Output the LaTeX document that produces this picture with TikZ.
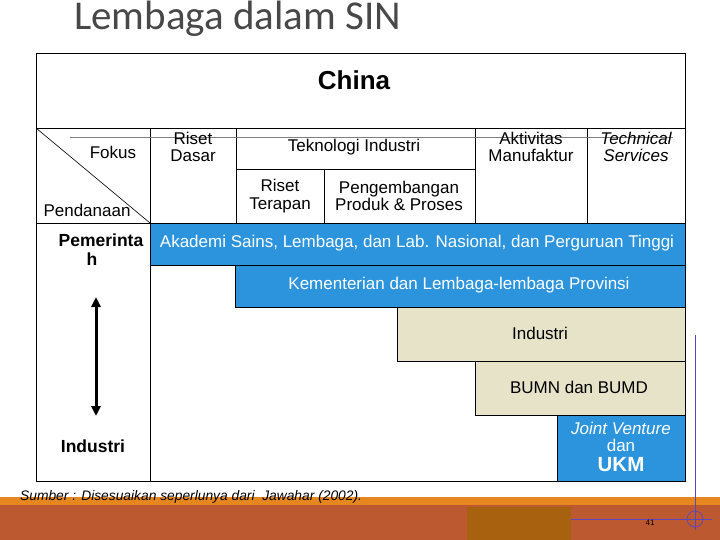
\documentclass[tikz,border=0pt]{standalone}
\usepackage{fontspec}
\setmainfont{Liberation Sans}
\newfontfamily\titlefont{Carlito}
\usetikzlibrary{arrows.meta}
\definecolor{rowblue}{RGB}{44,148,220}
\definecolor{rowbeige}{RGB}{230,227,200}
\definecolor{bandorange}{RGB}{229,134,31}
\definecolor{bandrust}{RGB}{189,89,48}
\definecolor{banddark}{RGB}{168,98,15}
\definecolor{guide}{RGB}{90,70,190}
\definecolor{titlegray}{RGB}{72,72,72}
\tikzset{
  txt/.style={font=\fontsize{17}{17.5}\selectfont, align=center, inner sep=0pt},
  btxt/.style={font=\fontsize{17.5}{18}\selectfont\bfseries, align=center, inner sep=0pt},
  wtxt/.style={txt, text=white},
  grid/.style={draw=black, line width=0.8pt},
  bluebox/.style={grid, fill=rowblue},
  beigebox/.style={grid, fill=rowbeige},
}
\begin{document}
\begin{tikzpicture}[x=1pt,y=-1pt]
\useasboundingbox (0,0) rectangle (720,540);
% title
\node[font=\titlefont\fontsize{41}{41}\selectfont, text=titlegray, anchor=base west, inner sep=0pt] (title) at (74,30) {Lembaga dalam SIN};
% outer frame and header grid
\draw[grid, line width=1pt] (36,54) rectangle (685,481);
\draw[grid] (36,128) -- (685,128);
\draw[grid] (36,223) -- (685,223);
\draw[grid] (150,128) -- (150,481);
\draw[grid] (236,128) -- (236,223);
\draw[grid] (475,128) -- (475,223);
\draw[grid] (587,128) -- (587,223);
\draw[grid] (236,169) -- (475,169);
\draw[grid] (324,169) -- (324,223);
\draw[black, line width=0.6pt] (36,128) -- (150,223);
\draw[gray, line width=0.7pt] (70,137) -- (673,137);
% header texts
\node[font=\fontsize{26}{26}\selectfont\bfseries, inner sep=0pt] (china) at (354,80) {China};
\node[txt] (fokus) at (113,152) {Fokus};
\node[txt] (pendanaan) at (87,210) {Pendanaan};
\node[txt] (risetdasar) at (193,147) {Riset\\Dasar};
\node[txt] (teknologi) at (354,147) {Teknologi Industri};
\node[txt] (terapan) at (280,196) {Riset\\Terapan};
\node[txt] (pengembangan) at (399,196) {Pengembangan\\Produk \& Proses};
\node[txt] (aktivitas) at (531,147) {Aktivitas\\Manufaktur};
\node[txt, font=\fontsize{17}{17.5}\selectfont\itshape] (technical) at (636,147) {Technical\\Services};
% rows
\draw[bluebox] (150,223) rectangle (685,265);
\node[wtxt] (akademi) at (417,243) {Akademi Sains, Lembaga, dan Lab. Nasional, dan Perguruan Tinggi};
\draw[bluebox] (235,265) rectangle (685,307);
\node[wtxt] (kementerian) at (459,285) {Kementerian dan Lembaga-lembaga Provinsi};
\draw[beigebox] (397,307) rectangle (685,361);
\node[txt] (industribox) at (540,333) {Industri};
\draw[beigebox] (475,361) rectangle (685,415);
\node[txt] (bumn) at (579,387) {BUMN dan BUMD};
\draw[bluebox] (557,415) rectangle (685,481);
\node[wtxt, font=\fontsize{17}{17.5}\selectfont\itshape] (jv) at (621,428) {Joint Venture};
\node[wtxt] (dan) at (621,445) {dan};
\node[wtxt, font=\fontsize{20.5}{21}\selectfont\bfseries] (ukm) at (621,465) {UKM};
% left axis
\node[btxt] (pemerintah) at (101,250) {Pemerinta\\[1pt]\hspace*{-18pt}h};
\node[btxt] (industri) at (93,446) {Industri};
\coordinate (atop) at (96,297);
\coordinate (abot) at (96,416);
\draw[line width=3pt, {Triangle[length=10pt,width=9pt]}-{Triangle[length=10pt,width=9pt]}] (atop) -- (abot);
% bottom band
\fill[bandorange] (0,497) rectangle (720,505);
\fill[bandrust] (0,505) rectangle (720,540);
\fill[banddark] (467,507) rectangle (571,540);
\node[font=\fontsize{13.8}{14}\selectfont\itshape, anchor=west, inner sep=0pt] (sumber) at (20,497) {Sumber : Disesuaikan seperlunya dari \ Jawahar (2002).};
\draw[guide, line width=0.7pt] (571,519) -- (712,519);
\draw[guide, line width=0.7pt] (695,335) -- (695,530);
\draw[guide, line width=0.7pt] (695,519) circle (8);
\node[font=\fontsize{8}{8}\selectfont, inner sep=0pt] (pagenum) at (650,523) {41};
\end{tikzpicture}
\end{document}
